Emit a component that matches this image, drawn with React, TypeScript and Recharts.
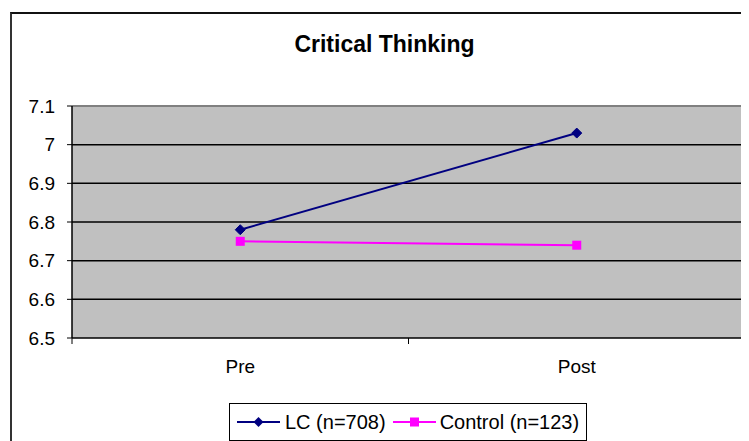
import React from 'react';
import { LineChart, Line, XAxis, YAxis, CartesianGrid } from 'recharts';

const categories = ['Pre', 'Post'];
const lcScores = [6.78, 7.03];
const controlScores = [6.75, 6.74];
const yTicks = [6.5, 6.6, 6.7, 6.8, 6.9, 7, 7.1];
const gridValues = [6.6, 6.7, 6.8, 6.9, 7];

const seriesNames = { lc: 'LC (n=708)', control: 'Control (n=123)' };

const NAVY = '#000080';
const MAGENTA = '#FF00FF';
const FONT = '"Liberation Sans", Arial, sans-serif';

const CHART_W = 741;
const CHART_H = 433;
const MARGIN = { top: 98, right: 4, left: 0, bottom: 63 };
const Y_AXIS_W = 64;
const X_AXIS_H = 40;

const plotW = CHART_W - MARGIN.left - MARGIN.right - Y_AXIS_W;
const bandW = plotW / categories.length;
const axisY = CHART_H - MARGIN.bottom - X_AXIS_H;

const data = categories.map((c, i) => ({
  name: c,
  lc: lcScores[i],
  control: controlScores[i],
}));

const Diamond = (props: any) => {
  const { cx, cy } = props;
  if (cx == null || cy == null) return null;
  const r = 5;
  return (
    <polygon
      points={`${cx},${cy - r} ${cx + r},${cy} ${cx},${cy + r} ${cx - r},${cy}`}
      fill={NAVY}
      stroke={NAVY}
    />
  );
};

const Square = (props: any) => {
  const { cx, cy } = props;
  if (cx == null || cy == null) return null;
  const s = 9;
  return <rect x={cx - s / 2} y={cy - s / 2} width={s} height={s} fill={MAGENTA} />;
};

const CategoryTick = (props: any) => {
  const { x, payload, index } = props;
  const left = x - bandW / 2;
  const right = x + bandW / 2;
  return (
    <g>
      <line x1={left} y1={axisY} x2={left} y2={axisY + 6} stroke="#000" />
      {index === categories.length - 1 && (
        <line x1={right} y1={axisY} x2={right} y2={axisY + 6} stroke="#000" />
      )}
      <text
        x={x}
        y={axisY + 35}
        textAnchor="middle"
        fontSize={19}
        fontFamily={FONT}
        fill="#000"
      >
        {payload.value}
      </text>
    </g>
  );
};

const LegendIcon: React.FC<{ color: string; square?: boolean }> = ({ color, square }) => (
  <svg width={43} height={12} style={{ display: 'block' }}>
    <line x1={0} y1={6} x2={43} y2={6} stroke={color} strokeWidth={2} />
    {square ? (
      <rect x={17} y={1.5} width={9} height={9} fill={color} />
    ) : (
      <polygon points="21.5,1 26.5,6 21.5,11 16.5,6" fill={color} />
    )}
  </svg>
);

const CriticalThinkingChart: React.FC = () => {
  return (
    <div
      style={{
        position: 'relative',
        width: CHART_W,
        height: CHART_H,
        overflow: 'hidden',
        fontFamily: FONT,
        background: '#fff',
      }}
    >
      <div
        style={{
          position: 'absolute',
          left: 2,
          top: 4,
          width: 800,
          height: 500,
          borderTop: '2px solid #111',
          borderLeft: '2px solid #333',
        }}
      />
      <div
        style={{
          position: 'absolute',
          left: 0,
          top: 24.6,
          width: 753,
          textAlign: 'center',
          fontSize: 23,
          lineHeight: '23px',
          fontWeight: 'bold',
          color: '#000',
        }}
      >
        Critical Thinking
      </div>
      <div style={{ position: 'absolute', left: 0, top: 0 }}>
        <LineChart width={CHART_W} height={CHART_H} data={data} margin={MARGIN}>
          <CartesianGrid
            fill="#C0C0C0"
            stroke="#000"
            strokeWidth={1.5}
            vertical={false}
            horizontalValues={gridValues}
          />
          <CartesianGrid
            stroke="#808080"
            strokeWidth={2}
            horizontalValues={[7.1]}
            verticalCoordinatesGenerator={({ offset }: any) => [offset.left + offset.width]}
          />
          <XAxis
            dataKey="name"
            height={X_AXIS_H}
            axisLine={{ stroke: '#000', strokeWidth: 1.5 }}
            tickLine={false}
            padding={{ left: bandW / 2, right: bandW / 2 }}
            tick={<CategoryTick />}
            interval={0}
          />
          <YAxis
            width={Y_AXIS_W}
            domain={[6.5, 7.1]}
            ticks={yTicks}
            allowDataOverflow
            axisLine={{ stroke: '#000', strokeWidth: 1.5 }}
            tickLine={{ stroke: '#000' }}
            tickSize={5}
            tickMargin={12}
            tick={{ fill: '#000', fontSize: 19, fontFamily: FONT }}
          />
          <Line
            dataKey="lc"
            name={seriesNames.lc}
            stroke={NAVY}
            strokeWidth={2}
            dot={<Diamond />}
            activeDot={false}
            isAnimationActive={false}
          />
          <Line
            dataKey="control"
            name={seriesNames.control}
            stroke={MAGENTA}
            strokeWidth={2}
            dot={<Square />}
            activeDot={false}
            isAnimationActive={false}
          />
        </LineChart>
      </div>
      <div
        style={{
          position: 'absolute',
          left: 221,
          top: 395,
          width: 358,
          height: 38,
          boxSizing: 'border-box',
          border: '1px solid #000',
          display: 'flex',
          alignItems: 'center',
          paddingLeft: 7,
          fontSize: 20,
          color: '#000',
          whiteSpace: 'nowrap',
        }}
      >
        <LegendIcon color={NAVY} />
        <span style={{ marginLeft: 5 }}>{seriesNames.lc}</span>
        <span style={{ marginLeft: 7 }}>
          <LegendIcon color={MAGENTA} square />
        </span>
        <span style={{ marginLeft: 4 }}>{seriesNames.control}</span>
      </div>
    </div>
  );
};

export default function App() {
  return <CriticalThinkingChart />;
}
